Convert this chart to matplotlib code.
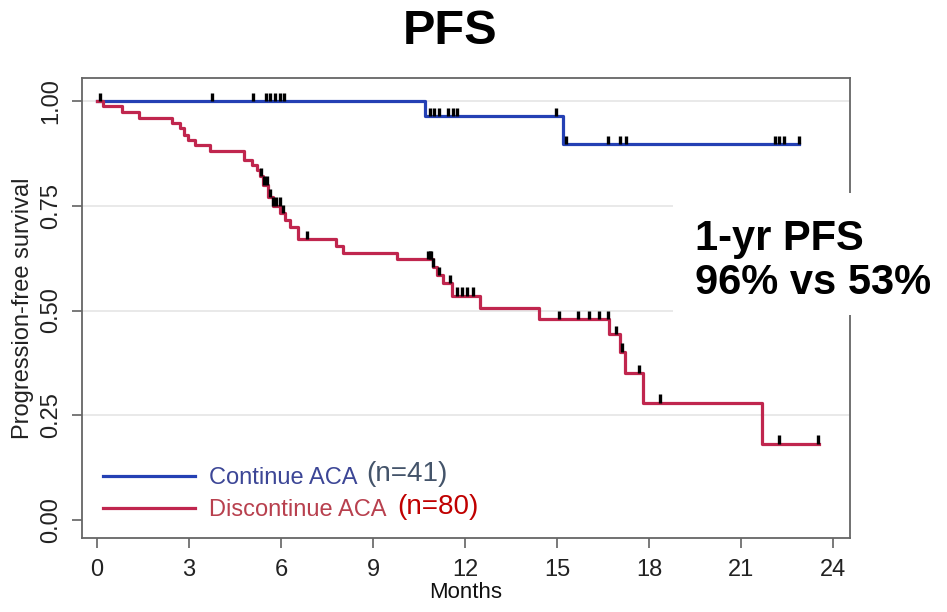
import numpy as np
import matplotlib
matplotlib.use("Agg")
import matplotlib.pyplot as plt

plt.rcParams['font.family'] = ['Liberation Sans', 'DejaVu Sans']

# Kaplan-Meier step data (months, survival after each drop)
cont_times = [10.7, 15.2]
cont_surv = [0.964, 0.897]
cont_end = 22.9
cont_censor = [0.1, 3.75, 5.1, 5.5, 5.65, 5.8, 5.95, 6.1, 10.85, 11.0, 11.15,
               11.45, 11.6, 11.75, 14.95, 15.3, 16.65, 17.05, 17.25, 22.1,
               22.25, 22.4, 22.9]

disc_times = [0.2, 0.8, 1.38, 2.43, 2.7, 2.82, 2.95, 3.2, 3.68, 4.8, 5.05,
              5.22, 5.3, 5.42, 5.58, 5.75, 5.97, 6.13, 6.3, 6.55, 7.8, 8.02,
              9.77, 10.95, 11.1, 11.27, 11.57, 12.5, 14.4, 16.68, 17.05,
              17.21, 17.79, 21.67]
disc_surv = [0.988, 0.974, 0.960, 0.948, 0.935, 0.920, 0.907, 0.895, 0.880,
             0.859, 0.848, 0.836, 0.820, 0.800, 0.770, 0.750, 0.733, 0.716,
             0.700, 0.670, 0.654, 0.637, 0.622, 0.605, 0.585, 0.565, 0.535,
             0.505, 0.480, 0.444, 0.402, 0.350, 0.280, 0.182]
disc_end = 23.55
disc_censor = [5.35, 5.45, 5.55, 5.65, 5.75, 5.85, 5.95, 6.05, 6.84, 10.8,
               10.85, 10.9, 10.95, 11.15, 11.5, 11.73, 11.89, 12.05, 12.27,
               15.06, 15.69, 16.05, 16.37, 16.65, 16.92, 17.1, 17.68, 18.36,
               22.22, 23.52]

group_labels = ["Continue ACA", "Discontinue ACA"]
group_n = ["(n=41)", "(n=80)"]
x_ticks = [0, 3, 6, 9, 12, 15, 18, 21, 24]
y_ticks = [0.00, 0.25, 0.50, 0.75, 1.00]
y_tick_labels = ["0.00", "0.25", "0.50", "0.75", "1.00"]

BLUE = "#2440b4"
RED = "#c0264e"


def km_xy(times, surv, end):
    x = np.concatenate([[0.0], times, [end]])
    y = np.concatenate([[1.0], surv, [surv[-1]]])
    return x, y


def surv_at(t, times, surv):
    idx = np.searchsorted(times, t, side="right")
    levels = np.concatenate([[1.0], surv])
    return levels[idx]


W, H = 947, 612
fig = plt.figure(figsize=(W / 100, H / 100), dpi=100)
ax = fig.add_axes([82 / W, 1 - 538 / H, 768 / W, 460 / H])
ax.set_xlim(-0.49, 24.55)
ax.set_ylim(-0.043, 1.055)

for yv in y_ticks[1:]:
    ax.axhline(yv, color="#e3e3e3", lw=1.1, zorder=0)

lines = []
for times, surv, end, cens, col in [
        (cont_times, cont_surv, cont_end, cont_censor, BLUE),
        (disc_times, disc_surv, disc_end, disc_censor, RED)]:
    t = np.array(times)
    s = np.array(surv)
    x, y = km_xy(t, s, end)
    ln, = ax.step(x, y, where="post", color=col, lw=2.3, zorder=3)
    lines.append(ln)
    c = np.array(cens)
    cs = surv_at(c, t, s)
    ax.vlines(c, cs, cs + 0.02, color="black", lw=2.4, zorder=4)

ax.set_xticks(x_ticks)
ax.set_yticks(y_ticks)
ax.set_yticklabels(y_tick_labels, rotation=90, va="center")
ax.tick_params(axis="both", length=7, width=1.1, color="#555555",
               labelsize=17, labelcolor="#222222")
ax.tick_params(axis="y", pad=7)
ax.tick_params(axis="x", pad=8)
for sp in ax.spines.values():
    sp.set_color("#666666")
    sp.set_linewidth(1.3)

ax.set_xlabel("Months", fontsize=16, labelpad=1, color="#111111")
ax.set_ylabel("Progression-free survival", fontsize=17, labelpad=5,
              color="#222222")

leg = ax.legend(lines, group_labels, loc="upper left",
                bbox_to_anchor=(103 / W, 1 - 467 / H),
                bbox_transform=fig.transFigure, frameon=False,
                fontsize=17, handlelength=3.9, handletextpad=0.6,
                labelspacing=0.42, borderpad=0, borderaxespad=0)
leg.get_texts()[0].set_color("#3c4696")
leg.get_texts()[1].set_color("#b8404e")

fig.text(366 / W, 1 - 474 / H, group_n[0], fontsize=20, color="#44546a",
         va="center", ha="left")
fig.text(397 / W, 1 - 507 / H, group_n[1], fontsize=20, color="#c00000",
         va="center", ha="left")

# Title and summary annotation
fig.text(450 / W, 1 - 31 / H, "PFS", fontsize=35, fontweight="bold",
         ha="center", va="center")
fig.patches.append(plt.Rectangle((673 / W, 1 - 315 / H), (W - 673) / W,
                                 122 / H, transform=fig.transFigure,
                                 facecolor="white", edgecolor="none",
                                 zorder=5))
fig.text(695 / W, 1 - 261 / H, "1-yr PFS\n96% vs 53%", fontsize=30,
         fontweight="bold", ha="left", va="center", linespacing=1.12,
         zorder=6)

fig.savefig("out.png", dpi=100)
